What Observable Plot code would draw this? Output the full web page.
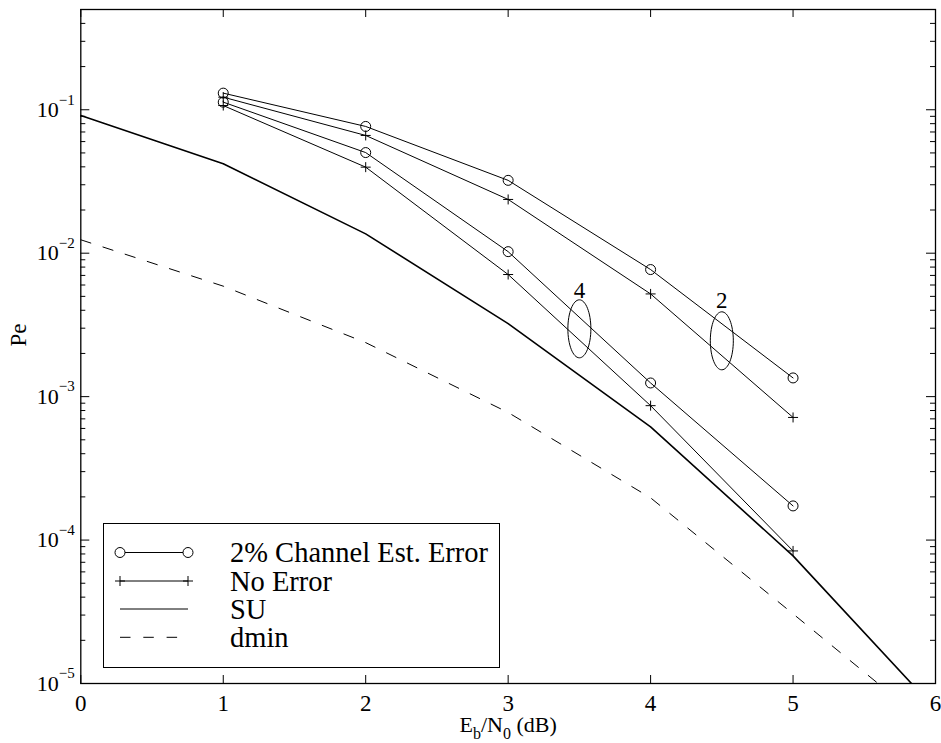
<!DOCTYPE html>
<html>
<head>
<meta charset="utf-8">
<script src="https://cdn.jsdelivr.net/npm/d3@7"></script>
<script src="https://cdn.jsdelivr.net/npm/@observablehq/plot@0.6"></script>
<style>
  body { margin: 0; background: #fff; }
  #wrap { position: relative; width: 941px; height: 743px; background: #fff;
          font-family: "Liberation Serif", "Times New Roman", serif; }
  #legend { position: absolute; left: 103px; top: 523px; }
</style>
</head>
<body>
<div id="wrap"></div>
<script>
// ---------- data ----------
const snr = [0, 1, 2, 3, 4, 5, 6];              // Eb/N0 (dB) for the SU and dmin curves
const snrMarked = [1, 2, 3, 4, 5];              // Eb/N0 (dB) for the simulated curves
const su   = [0.0911, 0.0420, 0.01364, 0.00323, 0.000615, 0.0000776, 0.0000066];
const dmin = [0.0124, 0.00589, 0.00238, 0.000775, 0.000197, 0.0000306, 0.0000047];
const estErr2 = [0.1306, 0.0765, 0.0322, 0.00769, 0.00135];   // 2% channel est. error, group "2"
const noErr2  = [0.1224, 0.0662, 0.0237, 0.00520, 0.000716];  // no error, group "2"
const estErr4 = [0.1130, 0.0503, 0.01025, 0.001245, 0.000173];// 2% channel est. error, group "4"
const noErr4  = [0.1070, 0.0398, 0.0071, 0.000865, 0.000084]; // no error, group "4"
const xTicks = [0, 1, 2, 3, 4, 5, 6];
const yTicks = [1e-1, 1e-2, 1e-3, 1e-4, 1e-5];
const yDomain = [1e-5, 0.5];
const groupLabels = ["4", "2"];
const groupX = [3.5, 4.5];
const groupLabelY = [0.0055, 0.0047];
const groupEllipseY = [0.00297, 0.00245];
const legendLabels = ["2% Channel Est. Error", "No Error", "SU", "dmin"];
const xLabelParts = ["E", "b", "/N", "0", " (dB)"];
const yLabel = "Pe";

// ---------- derived tables ----------
const rows = (xs, ys, name) => xs.map((x, i) => ({x, y: ys[i], name}));
const suRows = rows(snr, su, "SU");
const dminRows = rows(snr, dmin, "dmin");
const circleRows = [...rows(snrMarked, estErr2, "e2"), ...rows(snrMarked, estErr4, "e4")];
const plusRows = [...rows(snrMarked, noErr2, "n2"), ...rows(snrMarked, noErr4, "n4")];
const groups = groupLabels.map((g, i) => ({g, x: groupX[i], yl: groupLabelY[i], ye: groupEllipseY[i]}));
const minorTicks = [];
for (let k = -5; k <= -1; k++) for (let m = 2; m <= 9; m++) {
  const v = m * Math.pow(10, k);
  if (v <= yDomain[1]) minorTicks.push(v);
}

// ---------- layout ----------
const W = 941, H = 743, mL = 80.3, mR = 6, mT = 9, mB = 60;
const plotW = W - mL - mR, plotH = H - mT - mB;
const FONT = '"Liberation Serif", "Times New Roman", serif';
const dash = "10.5,12.8";

// custom symbols
const plusSymbol = {draw(ctx) { const h = 5; ctx.moveTo(-h, 0); ctx.lineTo(h, 0); ctx.moveTo(0, -h); ctx.lineTo(0, h); }};
const ellipseSymbol = {draw(ctx) {
  const rx = 11.5, ry = 29, k = 0.5523;
  ctx.moveTo(rx, 0);
  ctx.bezierCurveTo(rx, ry * k, rx * k, ry, 0, ry);
  ctx.bezierCurveTo(-rx * k, ry, -rx, ry * k, -rx, 0);
  ctx.bezierCurveTo(-rx, -ry * k, -rx * k, -ry, 0, -ry);
  ctx.bezierCurveTo(rx * k, -ry, rx, -ry * k, rx, 0);
  ctx.closePath();
}};

const chart = Plot.plot({
  width: W, height: H,
  marginLeft: mL, marginRight: mR, marginTop: mT, marginBottom: mB,
  style: {fontFamily: FONT, background: "white", color: "black", overflow: "visible"},
  x: {domain: [0, 6], axis: null},
  y: {type: "log", domain: yDomain, axis: null},
  marks: [
    Plot.line(dminRows, {x: "x", y: "y", stroke: "black", strokeWidth: 1, strokeDasharray: dash, clip: true}),
    Plot.line(suRows, {x: "x", y: "y", stroke: "black", strokeWidth: 1.6, clip: true}),
    Plot.line(circleRows, {x: "x", y: "y", z: "name", stroke: "black", strokeWidth: 1}),
    Plot.line(plusRows, {x: "x", y: "y", z: "name", stroke: "black", strokeWidth: 1}),
    Plot.dot(circleRows, {x: "x", y: "y", r: 5, stroke: "black", fill: "none", strokeWidth: 1}),
    Plot.dot(plusRows, {x: "x", y: "y", r: 5, symbol: plusSymbol, stroke: "black", fill: "none", strokeWidth: 1}),
    Plot.dot(groups, {x: "x", y: "ye", r: 10, symbol: ellipseSymbol, stroke: "black", fill: "none", strokeWidth: 1}),
    Plot.text(groups, {x: "x", y: "yl", text: "g", fontSize: 23, fill: "black"}),
    // inward ticks on all four sides
    Plot.ruleX(xTicks, {x: d => d, insetTop: plotH - 8, stroke: "black"}),
    Plot.ruleX(xTicks, {x: d => d, insetBottom: plotH - 8, stroke: "black"}),
    Plot.ruleY(yTicks, {y: d => d, insetRight: plotW - 9, stroke: "black"}),
    Plot.ruleY(yTicks, {y: d => d, insetLeft: plotW - 9, stroke: "black"}),
    Plot.ruleY(minorTicks, {y: d => d, insetRight: plotW - 5, stroke: "black"}),
    Plot.ruleY(minorTicks, {y: d => d, insetLeft: plotW - 5, stroke: "black"}),
    Plot.frame({stroke: "black", strokeWidth: 1.3}),
    // tick labels
    Plot.text(xTicks, {x: d => d, frameAnchor: "bottom", lineAnchor: "middle", dy: 20, text: d => String(d),
                       fontSize: 23, fill: "black"}),
    Plot.text(yTicks, {y: d => d, frameAnchor: "left", textAnchor: "start", lineAnchor: "middle", dx: -44,
                       text: () => "10", fontSize: 22, fill: "black"}),
    Plot.text(yTicks, {y: d => d, frameAnchor: "left", textAnchor: "start", lineAnchor: "middle", dx: -22, dy: -10,
                       text: d => "\u2212" + Math.abs(Math.round(Math.log10(d))), fontSize: 15, fill: "black"}),
    // axis titles
    Plot.text([xLabelParts.join("")], {frameAnchor: "bottom", lineAnchor: "middle", dy: 41, fontSize: 22,
                                        fill: "black", className: "xtitle"}),
    Plot.text([yLabel], {frameAnchor: "left", lineAnchor: "middle", dx: -62, rotate: -90, fontSize: 23, fill: "black"})
  ]
});

const NS = "http://www.w3.org/2000/svg";
// x title with subscripts
chart.querySelectorAll('.xtitle text').forEach(t => {
  t.textContent = "";
  const parts = [[xLabelParts[0], 0, null], [xLabelParts[1], 7, 16], [xLabelParts[2], -7, null],
                 [xLabelParts[3], 7, 16], [xLabelParts[4], -7, null]];
  parts.forEach(([txt, dy, fs]) => {
    const s = document.createElementNS(NS, "tspan");
    if (dy) s.setAttribute("dy", dy);
    if (fs) s.setAttribute("font-size", fs);
    s.textContent = txt;
    t.appendChild(s);
  });
});

const wrap = document.getElementById("wrap");
wrap.appendChild(chart);

// ---------- legend (overlay inside the axes) ----------
const lw = 396, lh = 144, rowY = [29.5, 58, 86, 114.3], s0 = 17, s1 = 85, tx = 127;
let svg = `<svg xmlns="${NS}" width="${lw + 1}" height="${lh + 1}" style="display:block;font-family:${FONT.replace(/"/g, "'")}">`;
svg += `<rect x="0.5" y="0.5" width="${lw}" height="${lh}" fill="white" stroke="black" stroke-width="1"/>`;
legendLabels.forEach((lab, i) => {
  const y = rowY[i];
  if (i === 3) svg += `<line x1="${s0}" x2="${s1 - 8}" y1="${y}" y2="${y}" stroke="black" stroke-dasharray="${dash}"/>`;
  else svg += `<line x1="${s0}" x2="${s1}" y1="${y}" y2="${y}" stroke="black"/>`;
  if (i === 0) [s0, s1].forEach(x => svg += `<circle cx="${x}" cy="${y}" r="5" fill="white" stroke="black"/>`);
  if (i === 1) [s0, s1].forEach(x => svg += `<path d="M${x - 5},${y}H${x + 5}M${x},${y - 5}V${y + 5}" stroke="black" fill="none"/>`);
  svg += `<text x="${tx}" y="${y}" dy="0.34em" font-size="28.5" fill="black">${lab}</text>`;
});
svg += `</svg>`;
const legend = document.createElement("div");
legend.id = "legend";
legend.innerHTML = svg;
wrap.appendChild(legend);
</script>
</body>
</html>
